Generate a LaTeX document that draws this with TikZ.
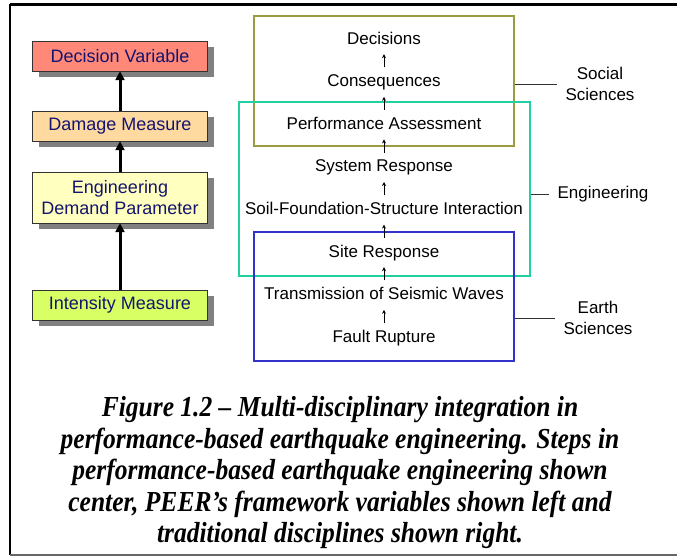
\documentclass[tikz,border=0pt]{standalone}
\usepackage{fontspec}
\setmainfont{Liberation Sans}
\newfontfamily\capfont[FakeStretch=0.88]{Liberation Serif}
\definecolor{dvred}{RGB}{255,136,120}
\definecolor{dmorange}{RGB}{255,218,160}
\definecolor{edpyellow}{RGB}{255,255,192}
\definecolor{imgreen}{RGB}{216,255,100}
\definecolor{boxtext}{RGB}{20,20,110}
\definecolor{socialcol}{RGB}{155,155,64}
\definecolor{engcol}{RGB}{32,208,160}
\definecolor{earthcol}{RGB}{51,51,204}
\usetikzlibrary{arrows.meta, positioning, shadows}
\tikzstyle{var_box} = [draw=black!80, minimum width=175pt, text=boxtext, align=center, inner sep=0pt, font=\fontsize{18}{21}\selectfont, drop shadow={shadow xshift=6pt,shadow yshift=-6pt,fill=black!50,opacity=1}]
\tikzstyle{var_arrow} = [line width=3pt,-{Triangle[length=9pt,width=9pt]}]
\tikzstyle{step_text} = [inner xsep=2pt, inner ysep=6pt, text height=13pt, text depth=4pt]
\tikzstyle{step_arrow} = [line width=1pt,-{Stealth[length=4pt,width=4pt]}]
\tikzstyle{field_box} = [draw, line width=2pt, inner sep=0pt]
\tikzstyle{field_lbl} = [align=center, inner xsep=8pt]

\begin{document}
\begin{tikzpicture}[x=1pt, y=-1pt, node distance=13.2pt, font=\fontsize{17}{21}\selectfont]
  \useasboundingbox (0,0) rectangle (677,557);
  \draw [line width=3pt] (10,4) -- (677,4);
  \draw [line width=2pt] (10,4) -- (10,555);
  \draw [line width=1.5pt, black!60] (10,555) -- (677,555);

  \node (dv)  [var_box, fill=dvred, minimum height=30pt] at (120,56) {Decision Variable};
  \node (dm)  [var_box, fill=dmorange, minimum height=30pt] at (120,126) {Damage Measure};
  \node (edp) [var_box, fill=edpyellow, minimum height=51pt] at (120,197.5) {Engineering\\Demand Parameter};
  \node (im)  [var_box, fill=imgreen, minimum height=30pt] at (120,305) {Intensity Measure};
  \draw [var_arrow] (dm) -- (dv);
  \draw [var_arrow] (edp) -- (dm);
  \draw [var_arrow] (im) -- (edp);

  \node (social) [field_box, draw=socialcol, minimum width=260pt, minimum height=130pt] at (384,81) {};
  \node (eng)    [field_box, draw=engcol, minimum width=291pt, minimum height=174pt] at (384.5,189) {};
  \node (earth)  [field_box, draw=earthcol, minimum width=260pt, minimum height=129pt] at (384,296.5) {};

  \node (dec)   [step_text] at (384,39.5) {Decisions};
  \node (cons)  [step_text, below=of dec] {Consequences};
  \node (perf)  [step_text, below=of cons] {Performance Assessment};
  \node (sys)   [step_text, below=of perf] {System Response};
  \node (sfsi)  [step_text, below=of sys] {Soil-Foundation-Structure Interaction};
  \node (site)  [step_text, below=of sfsi] {Site Response};
  \node (trans) [step_text, below=of site] {Transmission of Seismic Waves};
  \node (fault) [step_text, below=of trans] {Fault Rupture};
  \draw [step_arrow] (cons) -- (dec);
  \draw [step_arrow] (perf) -- (cons);
  \draw [step_arrow] (sys) -- (perf);
  \draw [step_arrow] (sfsi) -- (sys);
  \draw [step_arrow] (site) -- (sfsi);
  \draw [step_arrow] (trans) -- (site);
  \draw [step_arrow] (fault) -- (trans);

  \node (social_lbl) [field_lbl] at (600,84) {Social\\Sciences};
  \node (eng_lbl)    [field_lbl] at (603,194) {Engineering};
  \node (earth_lbl)  [field_lbl] at (598,318) {Earth\\Sciences};
  \draw [black!80] (social.east |- social_lbl) -- (social_lbl);
  \draw [black!80] (eng.east |- eng_lbl) -- (eng_lbl);
  \draw [black!80] (earth.east |- earth_lbl) -- (earth_lbl);

  \node (caption) [align=center, font=\capfont\bfseries\itshape\fontsize{29}{31.5}\selectfont] at (340,473)
    {Figure 1.2 – Multi-disciplinary integration in\\
     performance-based earthquake engineering. Steps in\\
     performance-based earthquake engineering shown\\
     center, PEER’s framework variables shown left and\\
     traditional disciplines shown right.};
\end{tikzpicture}
\end{document}
